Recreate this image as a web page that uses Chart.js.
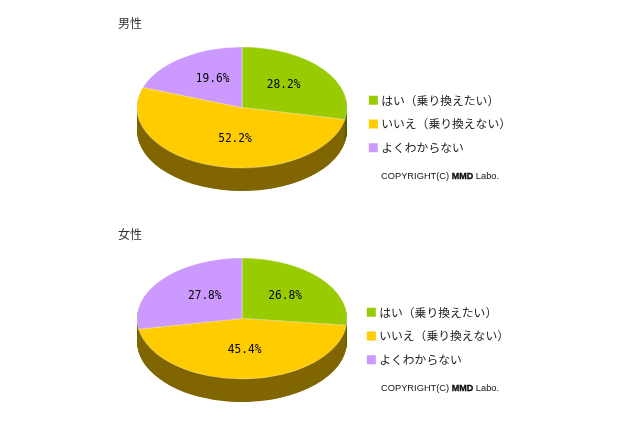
<!DOCTYPE html>
<html><head><meta charset="utf-8">
<script src="https://cdn.jsdelivr.net/npm/chart.js@4"></script>
<style>
html,body{margin:0;padding:0;background:#fff;width:640px;height:426px;overflow:hidden}
canvas{position:absolute;left:0}
.copy{position:absolute;left:381px;font:9.3px "Liberation Sans",Arial,sans-serif;color:#111;white-space:nowrap;line-height:12px}
.copy b{font-weight:900;font-size:9px;-webkit-text-stroke:.3px #000}
</style></head><body>
<canvas id="m" width="521" height="248" style="top:0"></canvas>
<canvas id="f" width="519" height="248" style="top:212px"></canvas>
<div class="copy" style="top:170px">COPYRIGHT(C) <b>MMD</b> Labo.</div>
<div class="copy" style="top:382px">COPYRIGHT(C) <b>MMD</b> Labo.</div>
<script>
const categories = ['はい（乗り換えたい）', 'いいえ（乗り換えない）', 'よくわからない'];
const maleValues = [28.2, 52.2, 19.6];
const femaleValues = [26.8, 45.4, 27.8];
const titles = ['男性', '女性'];
const topColors = ['#99CC00', '#FFCC00', '#CC99FF'];
const sideColors = ['#4D6600', '#806600', '#806600'];

const pie3d = {
  id: 'pie3d',
  beforeDatasetsDraw(chart, args, o) {
    const ctx = chart.ctx, arcs = chart.getDatasetMeta(0).data, a0 = arcs[0];
    ctx.save();
    ctx.translate(o.cx, o.cy);
    ctx.scale(1, o.squash);
    ctx.translate(-a0.x, -a0.y);
    for (let d = o.depth; d >= 1; d--) {
      arcs.forEach((a, i) => {
        ctx.fillStyle = sideColors[i];
        ctx.beginPath();
        ctx.moveTo(a.x, a.y + d);
        ctx.arc(a.x, a.y + d, a.outerRadius, a.startAngle, a.endAngle);
        ctx.closePath();
        ctx.fill();
      });
    }
  },
  afterDatasetsDraw(chart, args, o) {
    const ctx = chart.ctx, arcs = chart.getDatasetMeta(0).data, a0 = arcs[0];
    ctx.restore();
    const vals = chart.data.datasets[0].data;
    arcs.forEach((a, i) => {
      const p = a.getCenterPoint();
      const x = o.cx + (p.x - a0.x) + o.shifts[i][0];
      const y = o.cy + (p.y - a0.y) * o.squash + o.shifts[i][1];
      ctx.save();
      ctx.translate(x, y);
      ctx.scale(0.86, 1);
      ctx.font = '13px "DejaVu Sans Mono",monospace';
      ctx.fillStyle = '#000';
      ctx.textAlign = 'center';
      ctx.textBaseline = 'middle';
      ctx.fillText(vals[i].toFixed(1) + '%', 0, 0);
      ctx.restore();
    });
  }
};

const baseLabels = Chart.overrides.pie.plugins.legend.labels.generateLabels;

function make(id, values, title, cy, titleTop, shifts) {
  new Chart(document.getElementById(id), {
    type: 'pie',
    plugins: [pie3d],
    data: { labels: categories, datasets: [{ data: values, backgroundColor: topColors,
      borderColor: 'rgba(255,255,255,.45)', borderWidth: 1, radius: 105 }] },
    options: {
      responsive: false, animation: false, devicePixelRatio: 1,
      layout: { padding: { left: 118 } },
      plugins: {
        tooltip: { enabled: false },
        title: { display: true, text: title, align: 'start', color: '#333',
          font: { family: '"Noto Sans CJK JP"', size: 12, weight: 'normal', lineHeight: 1.2 },
          padding: { top: titleTop, bottom: 0 } },
        legend: { display: true, position: 'right', align: 'center',
          labels: { usePointStyle: true, pointStyle: 'rect', boxWidth: 4, boxHeight: 9, padding: 12, color: '#222',
            font: { family: '"Noto Sans CJK JP"', size: 11.8, lineHeight: 1.05 },
            generateLabels: c => baseLabels(c).map(l => Object.assign(l, { lineWidth: 0 })) } },
        pie3d: { cx: 242, cy, squash: 0.576, depth: 40, shifts }
      }
    }
  });
}
make('m', maleValues, titles[0], 107.5, 16, [[1,-4],[7,2],[1,-4]]);
make('f', femaleValues, titles[1], 106.5, 15, [[4,-3],[1,1],[3,-3]]);
</script>
</body></html>
